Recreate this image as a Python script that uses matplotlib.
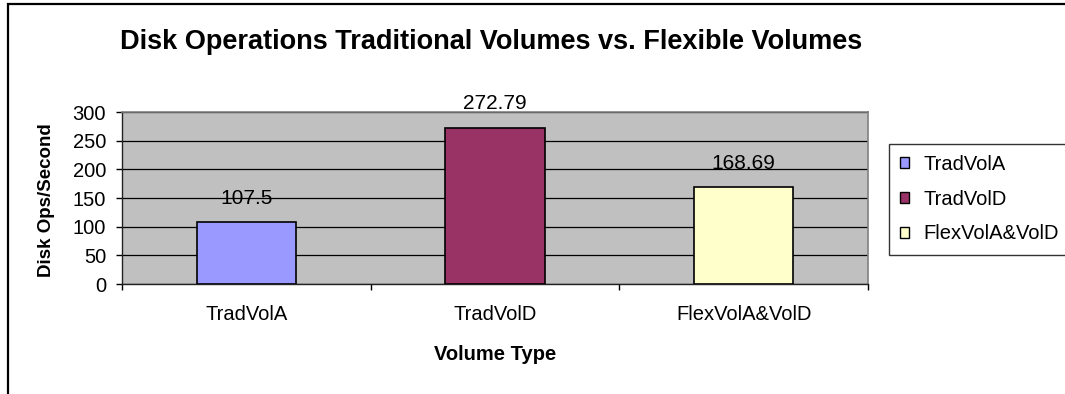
import matplotlib
matplotlib.use('Agg')
import matplotlib.pyplot as plt
from matplotlib.patches import Patch, Rectangle

plt.rcParams['font.family'] = ['Liberation Sans', 'DejaVu Sans']

# data
categories = ['TradVolA', 'TradVolD', 'FlexVolA&VolD']
ops = [107.5, 272.79, 168.69]
colors = ['#9999FF', '#993366', '#FFFFCC']
y_ticks = [0, 50, 100, 150, 200, 250, 300]

W, H = 1065, 394
fig = plt.figure(figsize=(W / 100, H / 100), dpi=100)

# outer chart border (runs off the right and bottom edges)
fig.patches.append(Rectangle((8 / W, -0.2), 1.2, 1.2 - 4 / H, transform=fig.transFigure,
                             fill=False, edgecolor='black', linewidth=1.6))

ax = fig.add_axes([122 / W, (H - 284) / H, 746 / W, 172 / H])
ax.set_facecolor('#C0C0C0')

x = list(range(len(categories)))
ax.bar(x, ops, width=0.4, color=colors, edgecolor='black', linewidth=1.2, zorder=3)

for xi, v in zip(x, ops):
    ax.annotate(f'{v:g}', (xi, v), xytext=(0, 13.5), textcoords='offset points',
                ha='center', va='baseline', fontsize=15)

ax.set_xlim(-0.5, 2.5)
ax.set_ylim(0, 300)
ax.set_yticks(y_ticks)
ax.yaxis.grid(True, color='black', linewidth=0.9, zorder=1)
ax.tick_params(axis='y', direction='out', length=4.5, width=1, pad=7, labelsize=14.5)

# category boundaries get tick marks, names sit between them
ax.set_xticks([-0.5, 0.5, 1.5, 2.5])
ax.set_xticklabels([])
ax.tick_params(axis='x', which='major', direction='out', length=4, width=1)
ax.set_xticks(x, minor=True)
ax.set_xticklabels(categories, minor=True)
ax.tick_params(axis='x', which='minor', length=0, pad=15, labelsize=14.5)

for s in ['top', 'right']:
    ax.spines[s].set_color('#808080')
    ax.spines[s].set_linewidth(1.2)
for s in ['left', 'bottom']:
    ax.spines[s].set_color('#222222')
    ax.spines[s].set_linewidth(1.0)

fig.text(491 / W, 1 - 42 / H, 'Disk Operations Traditional Volumes vs. Flexible Volumes',
         ha='center', va='center', fontsize=19.5, fontweight='bold')
fig.text(47 / W, 1 - 200 / H, 'Disk Ops/Second', rotation=90, ha='center', va='center',
         fontsize=13.5, fontweight='bold')
fig.text(495 / W, 1 - 354 / H, 'Volume Type', ha='center', va='center',
         fontsize=14.5, fontweight='bold')

handles = [Patch(facecolor=c, edgecolor='black', linewidth=1) for c in colors]
leg = fig.legend(handles, categories, loc='upper left', bbox_to_anchor=(889 / W, 1 - 144 / H),
                 fontsize=14.5, frameon=True, fancybox=False, edgecolor='black',
                 handlelength=0.45, handleheight=0.45, handletextpad=0.7,
                 labelspacing=0.78, borderpad=0.55, borderaxespad=0)
leg.get_frame().set_linewidth(1.0)

fig.savefig('out.png', dpi=100)
